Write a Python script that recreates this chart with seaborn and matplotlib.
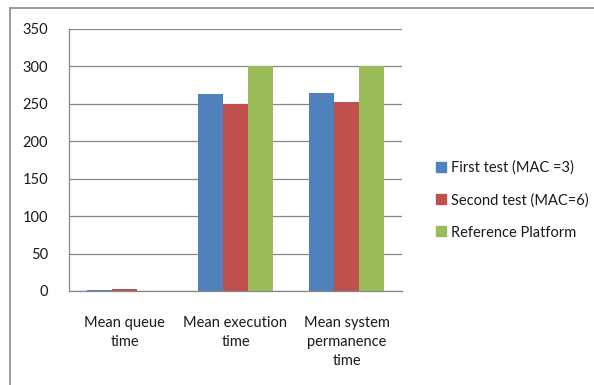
import matplotlib
matplotlib.use("Agg")
import matplotlib.pyplot as plt
from matplotlib.lines import Line2D
import seaborn as sns
import pandas as pd

categories = ["Mean queue\ntime", "Mean execution\ntime", "Mean system\npermanence\ntime"]
series = ["First test (MAC =3)", "Second test (MAC=6)", "Reference Platform"]
first_test = [1.5, 263, 264]
second_test = [3, 250, 253]
reference_platform = [0, 300, 300]
y_ticks = [0, 50, 100, 150, 200, 250, 300, 350]
colors = ["#4F81BD", "#C0504D", "#9BBB59"]

rows = []
for name, vals in zip(series, [first_test, second_test, reference_platform]):
    for cat, v in zip(categories, vals):
        rows.append({"category": cat, "series": name, "value": v})
df = pd.DataFrame(rows)

sns.set_style("white")
plt.rcParams["font.family"] = ["Lato", "DejaVu Sans"]

fig = plt.figure(figsize=(5.94, 3.85), dpi=100)
ax = fig.add_axes([69 / 594, 1 - 291 / 385, (402 - 69) / 594, (291 - 29) / 385])

sns.barplot(data=df, x="category", y="value", hue="series", order=categories,
            hue_order=series, palette=colors, width=0.675, gap=0,
            saturation=1, ax=ax, legend=False, edgecolor="none", linewidth=0)

grid_c = "#868686"
ax.set_ylim(0, 350)
ax.set_yticks(y_ticks)
ax.set_yticklabels([str(t) for t in y_ticks], fontsize=10.5, color="#1a1a1a")
ax.set_xlim(-0.5, 2.5)
ax.set_xticks(range(len(categories)))
ax.set_xticklabels(categories, fontsize=10.5, color="#1a1a1a", linespacing=1.45)
ax.set_xticks([-0.5, 0.5, 1.5, 2.5], minor=True)
ax.tick_params(axis="x", which="major", length=0, pad=18)
ax.tick_params(axis="x", which="minor", length=5, width=0.9, color=grid_c, direction="out")
ax.tick_params(axis="y", length=5, width=0.9, color=grid_c, direction="out", pad=10)
ax.set_xlabel("")
ax.set_ylabel("")

ax.yaxis.grid(True, color=grid_c, linewidth=0.9)
ax.set_axisbelow(True)
for side in ["top", "right"]:
    ax.spines[side].set_visible(False)
for side in ["left", "bottom"]:
    ax.spines[side].set_color(grid_c)
    ax.spines[side].set_linewidth(0.9)

handles = [Line2D([], [], marker="s", linestyle="none", markersize=6.5,
                  markerfacecolor=c, markeredgecolor=c) for c in colors]
fig.legend(handles, series, loc="center left", bbox_to_anchor=(428 / 594, 1 - 200 / 385),
           frameon=False, fontsize=10.5, labelspacing=1.25, handlelength=0.8,
           handletextpad=0.3, borderpad=0, labelcolor="#1a1a1a")

# outer chart-area frame (left and top edges)
fig.add_artist(Line2D([10 / 594, 10 / 594], [0, 1 - 8 / 385], color="#8a8a8a",
                      linewidth=1.2, transform=fig.transFigure))
fig.add_artist(Line2D([10 / 594, 1], [1 - 8 / 385, 1 - 8 / 385], color="#8a8a8a",
                      linewidth=1.2, transform=fig.transFigure))

fig.savefig("out.png", dpi=100)
